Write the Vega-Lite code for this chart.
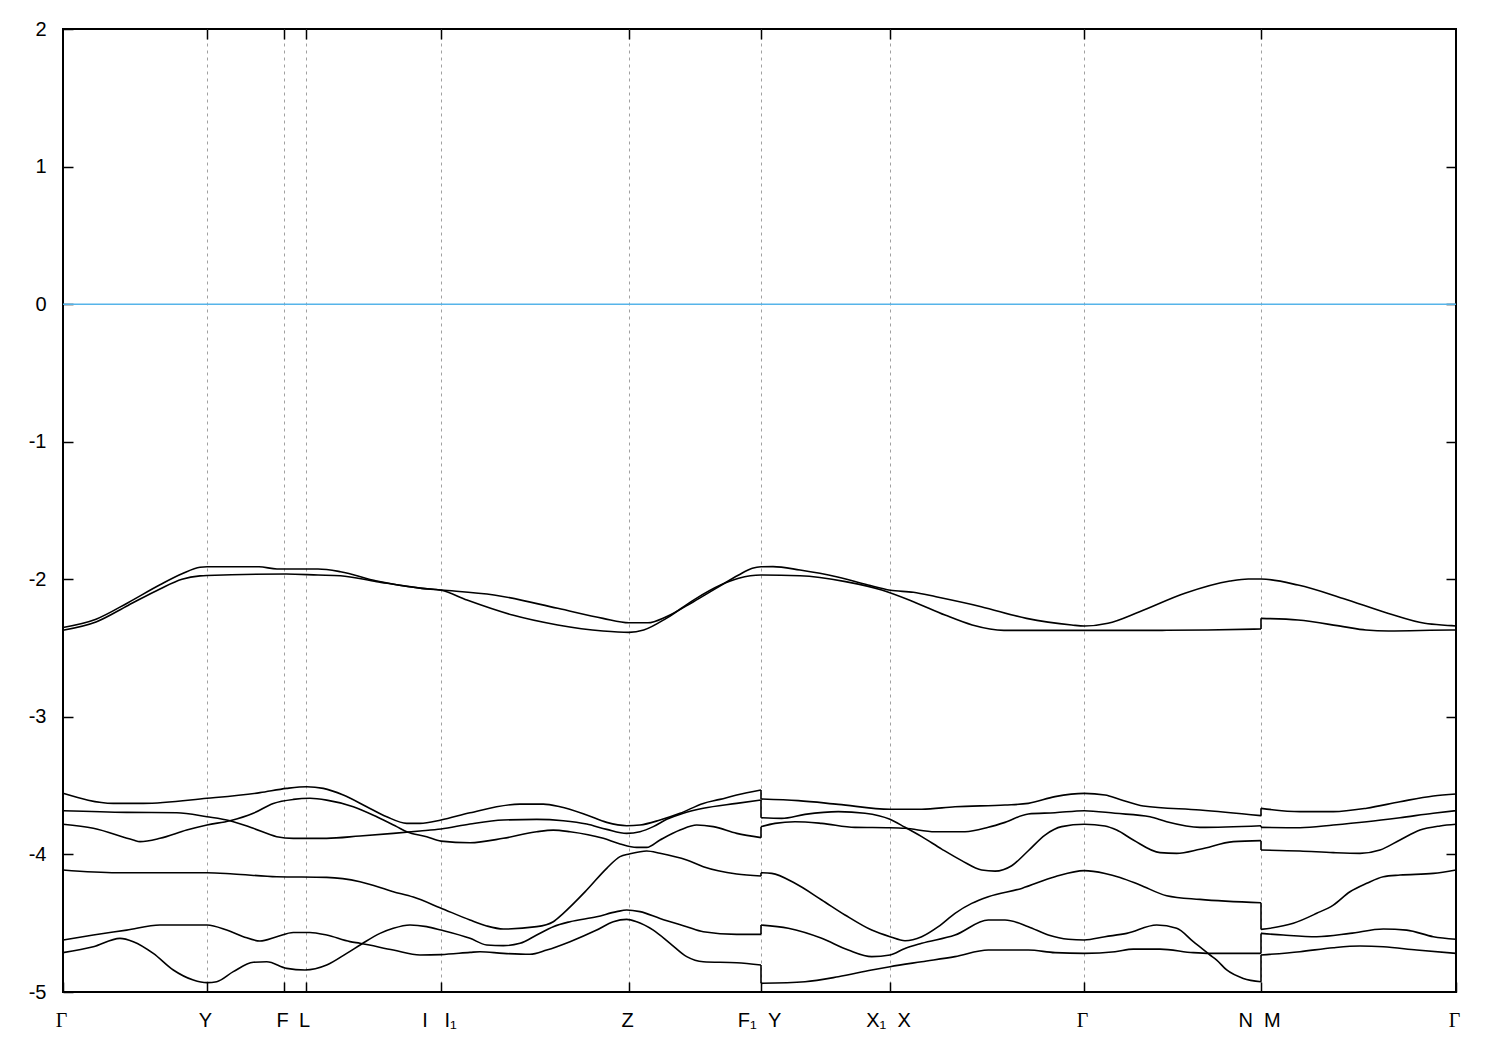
{
  "$schema": "https://vega.github.io/schema/vega-lite/v6.json",
  "autosize": "none",
  "width": 1393,
  "height": 963,
  "padding": {"left": 63, "top": 29, "right": 44, "bottom": 58},
  "background": "white",
  "config": {
    "view": {"stroke": "black", "strokeWidth": 2},
    "axis": {"labelFont": "Liberation Sans", "labelFontSize": 20, "labelColor": "black", "tickColor": "black", "tickWidth": 1.5}
  },
  "datasets": {
    "bands": [
      {"s":"u1","k":63,"e":-2.35},{"s":"u1","k":96,"e":-2.29},{"s":"u1","k":128,"e":-2.17},{"s":"u1","k":160,"e":-2.04},{"s":"u1","k":182,"e":-1.96},{"s":"u1","k":200,"e":-1.912},{"s":"u1","k":207,"e":-1.909},{"s":"u1","k":259,"e":-1.909},{"s":"u1","k":277,"e":-1.925},{"s":"u1","k":318,"e":-1.925},{"s":"u1","k":340.5,"e":-1.945},{"s":"u1","k":376.7,"e":-2.013},{"s":"u1","k":422,"e":-2.066},{"s":"u1","k":441.4,"e":-2.078},{"s":"u1","k":494,"e":-2.114},{"s":"u1","k":557.7,"e":-2.211},{"s":"u1","k":603,"e":-2.284},{"s":"u1","k":629,"e":-2.316},{"s":"u1","k":648,"e":-2.316},{"s":"u1","k":666.3,"e":-2.272},{"s":"u1","k":693.5,"e":-2.163},{"s":"u1","k":716,"e":-2.066},{"s":"u1","k":738.7,"e":-1.969},{"s":"u1","k":752.3,"e":-1.92},{"s":"u1","k":761,"e":-1.909},{"s":"u1","k":773,"e":-1.908},{"s":"u1","k":800,"e":-1.933},{"s":"u1","k":836.4,"e":-1.981},{"s":"u1","k":868,"e":-2.042},{"s":"u1","k":890.3,"e":-2.08},{"s":"u1","k":913.4,"e":-2.094},{"s":"u1","k":936,"e":-2.127},{"s":"u1","k":981.2,"e":-2.199},{"s":"u1","k":1026.5,"e":-2.284},{"s":"u1","k":1071.7,"e":-2.332},{"s":"u1","k":1084.4,"e":-2.34},{"s":"u1","k":1108,"e":-2.32},{"s":"u1","k":1139.6,"e":-2.236},{"s":"u1","k":1184.9,"e":-2.102},{"s":"u1","k":1230,"e":-2.013},{"s":"u1","k":1248.2,"e":-1.998},{"s":"u1","k":1261,"e":-1.998},{"s":"u1","k":1298,"e":-2.042},{"s":"u1","k":1343.2,"e":-2.139},{"s":"u1","k":1388.5,"e":-2.248},{"s":"u1","k":1424.7,"e":-2.32},{"s":"u1","k":1451.8,"e":-2.337},{"s":"u1","k":1456,"e":-2.34},

      {"s":"u2a","k":63,"e":-2.37},{"s":"u2a","k":96,"e":-2.31},{"s":"u2a","k":128,"e":-2.19},{"s":"u2a","k":160,"e":-2.07},{"s":"u2a","k":182,"e":-2.0},{"s":"u2a","k":200,"e":-1.975},{"s":"u2a","k":207,"e":-1.972},{"s":"u2a","k":286,"e":-1.962},{"s":"u2a","k":318,"e":-1.969},{"s":"u2a","k":340.5,"e":-1.974},{"s":"u2a","k":376.7,"e":-2.017},{"s":"u2a","k":422,"e":-2.066},{"s":"u2a","k":441.4,"e":-2.08},{"s":"u2a","k":467,"e":-2.151},{"s":"u2a","k":512.5,"e":-2.26},{"s":"u2a","k":557.7,"e":-2.332},{"s":"u2a","k":603,"e":-2.376},{"s":"u2a","k":629,"e":-2.386},{"s":"u2a","k":643.7,"e":-2.369},{"s":"u2a","k":666.3,"e":-2.284},{"s":"u2a","k":693.5,"e":-2.151},{"s":"u2a","k":720.6,"e":-2.042},{"s":"u2a","k":738.7,"e":-1.993},{"s":"u2a","k":761,"e":-1.969},{"s":"u2a","k":800,"e":-1.974},{"s":"u2a","k":845.5,"e":-2.017},{"s":"u2a","k":881.7,"e":-2.078},{"s":"u2a","k":913.4,"e":-2.163},{"s":"u2a","k":945,"e":-2.26},{"s":"u2a","k":972.2,"e":-2.332},{"s":"u2a","k":1003.9,"e":-2.371},{"s":"u2a","k":1084.4,"e":-2.371},{"s":"u2a","k":1162.2,"e":-2.371},{"s":"u2a","k":1207.5,"e":-2.369},{"s":"u2a","k":1261,"e":-2.361},
      {"s":"u2b","k":1261,"e":-2.284},{"s":"u2b","k":1298,"e":-2.296},{"s":"u2b","k":1343.2,"e":-2.344},{"s":"u2b","k":1365.9,"e":-2.369},{"s":"u2b","k":1388.5,"e":-2.376},{"s":"u2b","k":1451.8,"e":-2.369},{"s":"u2b","k":1456,"e":-2.369},

      {"s":"b1s1","k":63,"e":-3.556},{"s":"b1s1","k":113.3,"e":-3.629},{"s":"b1s1","k":143.3,"e":-3.629},{"s":"b1s1","k":207,"e":-3.592},{"s":"b1s1","k":260,"e":-3.551},{"s":"b1s1","k":286.7,"e":-3.52},{"s":"b1s1","k":306.7,"e":-3.508},{"s":"b1s1","k":323.3,"e":-3.52},{"s":"b1s1","k":343.3,"e":-3.568},{"s":"b1s1","k":366.7,"e":-3.653},{"s":"b1s1","k":386.7,"e":-3.726},{"s":"b1s1","k":406.7,"e":-3.774},{"s":"b1s1","k":420,"e":-3.774},{"s":"b1s1","k":441,"e":-3.75},{"s":"b1s1","k":470,"e":-3.697},{"s":"b1s1","k":520,"e":-3.634},{"s":"b1s1","k":543.3,"e":-3.634},{"s":"b1s1","k":560,"e":-3.653},{"s":"b1s1","k":586.7,"e":-3.713},{"s":"b1s1","k":606.7,"e":-3.767},{"s":"b1s1","k":626.7,"e":-3.791},{"s":"b1s1","k":640,"e":-3.786},{"s":"b1s1","k":660,"e":-3.75},{"s":"b1s1","k":680,"e":-3.701},{"s":"b1s1","k":703.3,"e":-3.629},{"s":"b1s1","k":720,"e":-3.6},{"s":"b1s1","k":736.7,"e":-3.568},{"s":"b1s1","k":761,"e":-3.532},

      {"s":"b2s1","k":63,"e":-3.682},{"s":"b2s1","k":126.7,"e":-3.694},{"s":"b2s1","k":176.7,"e":-3.697},{"s":"b2s1","k":207,"e":-3.726},{"s":"b2s1","k":230,"e":-3.755},{"s":"b2s1","k":253.3,"e":-3.81},{"s":"b2s1","k":276.7,"e":-3.871},{"s":"b2s1","k":293.3,"e":-3.883},{"s":"b2s1","k":326.7,"e":-3.883},{"s":"b2s1","k":360,"e":-3.866},{"s":"b2s1","k":393.3,"e":-3.847},{"s":"b2s1","k":420,"e":-3.83},{"s":"b2s1","k":441,"e":-3.815},{"s":"b2s1","k":470,"e":-3.779},{"s":"b2s1","k":503.3,"e":-3.75},{"s":"b2s1","k":536.7,"e":-3.745},{"s":"b2s1","k":563.3,"e":-3.755},{"s":"b2s1","k":586.7,"e":-3.779},{"s":"b2s1","k":606.7,"e":-3.818},{"s":"b2s1","k":626.7,"e":-3.847},{"s":"b2s1","k":640,"e":-3.835},{"s":"b2s1","k":653.3,"e":-3.798},{"s":"b2s1","k":666.7,"e":-3.745},{"s":"b2s1","k":683.3,"e":-3.701},{"s":"b2s1","k":703.3,"e":-3.665},{"s":"b2s1","k":736.7,"e":-3.629},{"s":"b2s1","k":761,"e":-3.604},

      {"s":"b3s1","k":63,"e":-3.781},{"s":"b3s1","k":93.3,"e":-3.81},{"s":"b3s1","k":133.3,"e":-3.895},{"s":"b3s1","k":140,"e":-3.907},{"s":"b3s1","k":160,"e":-3.883},{"s":"b3s1","k":186.7,"e":-3.823},{"s":"b3s1","k":207,"e":-3.786},{"s":"b3s1","k":230,"e":-3.755},{"s":"b3s1","k":253.3,"e":-3.701},{"s":"b3s1","k":273.3,"e":-3.629},{"s":"b3s1","k":293.3,"e":-3.6},{"s":"b3s1","k":310,"e":-3.592},{"s":"b3s1","k":326.7,"e":-3.605},{"s":"b3s1","k":353.3,"e":-3.653},{"s":"b3s1","k":376.7,"e":-3.726},{"s":"b3s1","k":396.7,"e":-3.798},{"s":"b3s1","k":406.7,"e":-3.835},{"s":"b3s1","k":426.7,"e":-3.871},{"s":"b3s1","k":441,"e":-3.903},{"s":"b3s1","k":470,"e":-3.915},{"s":"b3s1","k":503.3,"e":-3.883},{"s":"b3s1","k":536.7,"e":-3.835},{"s":"b3s1","k":553.3,"e":-3.823},{"s":"b3s1","k":570,"e":-3.835},{"s":"b3s1","k":603.3,"e":-3.883},{"s":"b3s1","k":620,"e":-3.924},{"s":"b3s1","k":636.7,"e":-3.949},{"s":"b3s1","k":646.7,"e":-3.949},{"s":"b3s1","k":660,"e":-3.895},{"s":"b3s1","k":680,"e":-3.823},{"s":"b3s1","k":696.7,"e":-3.786},{"s":"b3s1","k":713.3,"e":-3.798},{"s":"b3s1","k":736.7,"e":-3.847},{"s":"b3s1","k":761,"e":-3.878},

      {"s":"b4s1","k":63,"e":-4.113},{"s":"b4s1","k":116.7,"e":-4.133},{"s":"b4s1","k":207,"e":-4.133},{"s":"b4s1","k":233.3,"e":-4.142},{"s":"b4s1","k":276.7,"e":-4.162},{"s":"b4s1","k":326.7,"e":-4.167},{"s":"b4s1","k":360,"e":-4.198},{"s":"b4s1","k":393.3,"e":-4.271},{"s":"b4s1","k":413.3,"e":-4.31},{"s":"b4s1","k":440,"e":-4.387},{"s":"b4s1","k":470,"e":-4.477},{"s":"b4s1","k":486.7,"e":-4.52},{"s":"b4s1","k":503.3,"e":-4.542},{"s":"b4s1","k":536.7,"e":-4.525},{"s":"b4s1","k":553.3,"e":-4.489},{"s":"b4s1","k":563.3,"e":-4.428},{"s":"b4s1","k":586.7,"e":-4.259},{"s":"b4s1","k":606.7,"e":-4.101},{"s":"b4s1","k":620,"e":-4.016},{"s":"b4s1","k":629.3,"e":-3.997},{"s":"b4s1","k":646.7,"e":-3.975},{"s":"b4s1","k":660,"e":-3.992},{"s":"b4s1","k":686.7,"e":-4.041},{"s":"b4s1","k":703.3,"e":-4.089},{"s":"b4s1","k":736.7,"e":-4.142},{"s":"b4s1","k":761,"e":-4.157},

      {"s":"b5s1","k":63,"e":-4.714},{"s":"b5s1","k":93.3,"e":-4.671},{"s":"b5s1","k":120,"e":-4.61},{"s":"b5s1","k":133.3,"e":-4.634},{"s":"b5s1","k":153.3,"e":-4.719},{"s":"b5s1","k":173.3,"e":-4.84},{"s":"b5s1","k":193.3,"e":-4.913},{"s":"b5s1","k":207,"e":-4.932},{"s":"b5s1","k":216.7,"e":-4.925},{"s":"b5s1","k":233.3,"e":-4.852},{"s":"b5s1","k":253.3,"e":-4.784},{"s":"b5s1","k":266.7,"e":-4.78},{"s":"b5s1","k":286.7,"e":-4.828},{"s":"b5s1","k":305,"e":-4.84},{"s":"b5s1","k":326.7,"e":-4.804},{"s":"b5s1","k":346.7,"e":-4.719},{"s":"b5s1","k":361.7,"e":-4.651},{"s":"b5s1","k":380,"e":-4.574},{"s":"b5s1","k":393.3,"e":-4.537},{"s":"b5s1","k":410,"e":-4.513},{"s":"b5s1","k":426.7,"e":-4.525},{"s":"b5s1","k":441,"e":-4.55},{"s":"b5s1","k":470,"e":-4.61},{"s":"b5s1","k":486.7,"e":-4.658},{"s":"b5s1","k":503.3,"e":-4.663},{"s":"b5s1","k":520,"e":-4.646},{"s":"b5s1","k":536.7,"e":-4.586},{"s":"b5s1","k":553.3,"e":-4.525},{"s":"b5s1","k":570,"e":-4.489},{"s":"b5s1","k":596.7,"e":-4.453},{"s":"b5s1","k":616.7,"e":-4.416},{"s":"b5s1","k":626.7,"e":-4.404},{"s":"b5s1","k":640,"e":-4.416},{"s":"b5s1","k":660,"e":-4.465},{"s":"b5s1","k":686.7,"e":-4.525},{"s":"b5s1","k":703.3,"e":-4.562},{"s":"b5s1","k":736.7,"e":-4.581},{"s":"b5s1","k":761,"e":-4.581},

      {"s":"b6s1","k":63,"e":-4.622},{"s":"b6s1","k":93.3,"e":-4.586},{"s":"b6s1","k":126.7,"e":-4.55},{"s":"b6s1","k":160,"e":-4.513},{"s":"b6s1","k":207,"e":-4.513},{"s":"b6s1","k":226.7,"e":-4.55},{"s":"b6s1","k":243.3,"e":-4.598},{"s":"b6s1","k":260,"e":-4.629},{"s":"b6s1","k":276.7,"e":-4.598},{"s":"b6s1","k":293.3,"e":-4.567},{"s":"b6s1","k":310,"e":-4.567},{"s":"b6s1","k":326.7,"e":-4.586},{"s":"b6s1","k":350,"e":-4.634},{"s":"b6s1","k":360,"e":-4.646},{"s":"b6s1","k":393.3,"e":-4.695},{"s":"b6s1","k":420,"e":-4.731},{"s":"b6s1","k":441,"e":-4.728},{"s":"b6s1","k":470,"e":-4.712},{"s":"b6s1","k":480,"e":-4.707},{"s":"b6s1","k":503.3,"e":-4.719},{"s":"b6s1","k":530,"e":-4.726},{"s":"b6s1","k":546.7,"e":-4.695},{"s":"b6s1","k":570,"e":-4.634},{"s":"b6s1","k":596.7,"e":-4.55},{"s":"b6s1","k":613.3,"e":-4.489},{"s":"b6s1","k":626.7,"e":-4.472},{"s":"b6s1","k":636.7,"e":-4.489},{"s":"b6s1","k":653.3,"e":-4.55},{"s":"b6s1","k":670,"e":-4.646},{"s":"b6s1","k":686.7,"e":-4.743},{"s":"b6s1","k":703.3,"e":-4.78},{"s":"b6s1","k":736.7,"e":-4.787},{"s":"b6s1","k":761,"e":-4.804},

      {"s":"b1s2","k":761,"e":-3.597},{"s":"b1s2","k":798.3,"e":-3.609},{"s":"b1s2","k":838.3,"e":-3.636},{"s":"b1s2","k":890,"e":-3.672},{"s":"b1s2","k":921.7,"e":-3.672},{"s":"b1s2","k":955,"e":-3.653},{"s":"b1s2","k":1005,"e":-3.641},{"s":"b1s2","k":1028.3,"e":-3.629},{"s":"b1s2","k":1055,"e":-3.58},{"s":"b1s2","k":1084.3,"e":-3.556},{"s":"b1s2","k":1105,"e":-3.568},{"s":"b1s2","k":1120,"e":-3.6},{"s":"b1s2","k":1143.3,"e":-3.648},{"s":"b1s2","k":1200,"e":-3.677},{"s":"b1s2","k":1261,"e":-3.718},

      {"s":"b2s2","k":761,"e":-3.733},{"s":"b2s2","k":781.7,"e":-3.738},{"s":"b2s2","k":805,"e":-3.709},{"s":"b2s2","k":838.3,"e":-3.689},{"s":"b2s2","k":865,"e":-3.701},{"s":"b2s2","k":890,"e":-3.745},{"s":"b2s2","k":905,"e":-3.803},{"s":"b2s2","k":921.7,"e":-3.871},{"s":"b2s2","k":941.7,"e":-3.961},{"s":"b2s2","k":961.7,"e":-4.045},{"s":"b2s2","k":981.7,"e":-4.113},{"s":"b2s2","k":995,"e":-4.121},{"s":"b2s2","k":1011.7,"e":-4.082},{"s":"b2s2","k":1028.3,"e":-3.973},{"s":"b2s2","k":1045,"e":-3.859},{"s":"b2s2","k":1061.7,"e":-3.798},{"s":"b2s2","k":1084.3,"e":-3.781},{"s":"b2s2","k":1105,"e":-3.793},{"s":"b2s2","k":1116.7,"e":-3.823},{"s":"b2s2","k":1133.3,"e":-3.895},{"s":"b2s2","k":1160,"e":-3.987},{"s":"b2s2","k":1176.7,"e":-3.992},{"s":"b2s2","k":1200,"e":-3.963},{"s":"b2s2","k":1233.3,"e":-3.907},{"s":"b2s2","k":1261,"e":-3.9},

      {"s":"b3s2","k":761,"e":-3.798},{"s":"b3s2","k":775,"e":-3.774},{"s":"b3s2","k":795,"e":-3.762},{"s":"b3s2","k":821.7,"e":-3.774},{"s":"b3s2","k":855,"e":-3.803},{"s":"b3s2","k":890,"e":-3.806},{"s":"b3s2","k":905,"e":-3.81},{"s":"b3s2","k":935,"e":-3.835},{"s":"b3s2","k":965,"e":-3.835},{"s":"b3s2","k":988.3,"e":-3.803},{"s":"b3s2","k":1005,"e":-3.767},{"s":"b3s2","k":1028.3,"e":-3.706},{"s":"b3s2","k":1055,"e":-3.697},{"s":"b3s2","k":1084.3,"e":-3.682},{"s":"b3s2","k":1115,"e":-3.701},{"s":"b3s2","k":1150,"e":-3.726},{"s":"b3s2","k":1166.7,"e":-3.762},{"s":"b3s2","k":1200,"e":-3.803},{"s":"b3s2","k":1261,"e":-3.791},

      {"s":"b4s2","k":761,"e":-4.133},{"s":"b4s2","k":771.7,"e":-4.138},{"s":"b4s2","k":795,"e":-4.21},{"s":"b4s2","k":821.7,"e":-4.331},{"s":"b4s2","k":845,"e":-4.44},{"s":"b4s2","k":871.7,"e":-4.55},{"s":"b4s2","k":890,"e":-4.598},{"s":"b4s2","k":905,"e":-4.627},{"s":"b4s2","k":921.7,"e":-4.598},{"s":"b4s2","k":938.3,"e":-4.525},{"s":"b4s2","k":955,"e":-4.428},{"s":"b4s2","k":971.7,"e":-4.356},{"s":"b4s2","k":988.3,"e":-4.307},{"s":"b4s2","k":1021.7,"e":-4.247},{"s":"b4s2","k":1055,"e":-4.162},{"s":"b4s2","k":1084.3,"e":-4.118},{"s":"b4s2","k":1105,"e":-4.138},{"s":"b4s2","k":1120,"e":-4.167},{"s":"b4s2","k":1140,"e":-4.222},{"s":"b4s2","k":1166.7,"e":-4.3},{"s":"b4s2","k":1200,"e":-4.327},{"s":"b4s2","k":1261,"e":-4.351},

      {"s":"b5s2","k":761,"e":-4.513},{"s":"b5s2","k":788.3,"e":-4.537},{"s":"b5s2","k":821.7,"e":-4.61},{"s":"b5s2","k":848.3,"e":-4.695},{"s":"b5s2","k":871.7,"e":-4.743},{"s":"b5s2","k":890,"e":-4.731},{"s":"b5s2","k":905,"e":-4.683},{"s":"b5s2","k":921.7,"e":-4.646},{"s":"b5s2","k":955,"e":-4.586},{"s":"b5s2","k":988.3,"e":-4.477},{"s":"b5s2","k":1005,"e":-4.477},{"s":"b5s2","k":1028.3,"e":-4.525},{"s":"b5s2","k":1048.3,"e":-4.586},{"s":"b5s2","k":1068.3,"e":-4.617},{"s":"b5s2","k":1084.3,"e":-4.622},{"s":"b5s2","k":1105,"e":-4.598},{"s":"b5s2","k":1126.7,"e":-4.574},{"s":"b5s2","k":1156.7,"e":-4.513},{"s":"b5s2","k":1176.7,"e":-4.537},{"s":"b5s2","k":1193.3,"e":-4.634},{"s":"b5s2","k":1210,"e":-4.731},{"s":"b5s2","k":1216.7,"e":-4.768},{"s":"b5s2","k":1226.7,"e":-4.84},{"s":"b5s2","k":1243.3,"e":-4.901},{"s":"b5s2","k":1261,"e":-4.925},

      {"s":"b6s2","k":761,"e":-4.937},{"s":"b6s2","k":805,"e":-4.925},{"s":"b6s2","k":838.3,"e":-4.889},{"s":"b6s2","k":871.7,"e":-4.84},{"s":"b6s2","k":890,"e":-4.816},{"s":"b6s2","k":921.7,"e":-4.78},{"s":"b6s2","k":955,"e":-4.743},{"s":"b6s2","k":988.3,"e":-4.695},{"s":"b6s2","k":1028.3,"e":-4.695},{"s":"b6s2","k":1055,"e":-4.714},{"s":"b6s2","k":1084.3,"e":-4.719},{"s":"b6s2","k":1115,"e":-4.707},{"s":"b6s2","k":1133.3,"e":-4.688},{"s":"b6s2","k":1160,"e":-4.688},{"s":"b6s2","k":1193.3,"e":-4.714},{"s":"b6s2","k":1210,"e":-4.719},{"s":"b6s2","k":1261,"e":-4.719},

      {"s":"b1s3","k":1261,"e":-3.665},{"s":"b1s3","k":1300,"e":-3.689},{"s":"b1s3","k":1333.3,"e":-3.689},{"s":"b1s3","k":1366.7,"e":-3.664},{"s":"b1s3","k":1400,"e":-3.617},{"s":"b1s3","k":1433.3,"e":-3.575},{"s":"b1s3","k":1456,"e":-3.561},
      {"s":"b3s3","k":1261,"e":-3.803},{"s":"b3s3","k":1300,"e":-3.806},{"s":"b3s3","k":1333.3,"e":-3.786},{"s":"b3s3","k":1366.7,"e":-3.762},{"s":"b3s3","k":1400,"e":-3.733},{"s":"b3s3","k":1433.3,"e":-3.701},{"s":"b3s3","k":1456,"e":-3.682},
      {"s":"b2s3","k":1261,"e":-3.968},{"s":"b2s3","k":1300,"e":-3.975},{"s":"b2s3","k":1333.3,"e":-3.987},{"s":"b2s3","k":1360,"e":-3.992},{"s":"b2s3","k":1380,"e":-3.968},{"s":"b2s3","k":1400,"e":-3.895},{"s":"b2s3","k":1420,"e":-3.823},{"s":"b2s3","k":1440,"e":-3.793},{"s":"b2s3","k":1456,"e":-3.781},
      {"s":"b4s3","k":1261,"e":-4.545},{"s":"b4s3","k":1293.3,"e":-4.501},{"s":"b4s3","k":1316.7,"e":-4.428},{"s":"b4s3","k":1333.3,"e":-4.368},{"s":"b4s3","k":1350,"e":-4.271},{"s":"b4s3","k":1366.7,"e":-4.21},{"s":"b4s3","k":1383.3,"e":-4.162},{"s":"b4s3","k":1400,"e":-4.15},{"s":"b4s3","k":1433.3,"e":-4.138},{"s":"b4s3","k":1456,"e":-4.113},
      {"s":"b6s3","k":1261,"e":-4.574},{"s":"b6s3","k":1283.3,"e":-4.586},{"s":"b6s3","k":1316.7,"e":-4.598},{"s":"b6s3","k":1350,"e":-4.574},{"s":"b6s3","k":1383.3,"e":-4.542},{"s":"b6s3","k":1406.7,"e":-4.55},{"s":"b6s3","k":1433.3,"e":-4.598},{"s":"b6s3","k":1456,"e":-4.617},
      {"s":"b5s3","k":1261,"e":-4.731},{"s":"b5s3","k":1300,"e":-4.707},{"s":"b5s3","k":1333.3,"e":-4.678},{"s":"b5s3","k":1360,"e":-4.666},{"s":"b5s3","k":1383.3,"e":-4.671},{"s":"b5s3","k":1416.7,"e":-4.695},{"s":"b5s3","k":1456,"e":-4.719}
    ],
    "jumps": [
      {"k":761,"e":-3.532,"e2":-3.597},{"k":761,"e":-3.604,"e2":-3.733},{"k":761,"e":-3.878,"e2":-3.798},{"k":761,"e":-4.157,"e2":-4.133},{"k":761,"e":-4.581,"e2":-4.513},{"k":761,"e":-4.804,"e2":-4.937},
      {"k":1261,"e":-3.718,"e2":-3.665},{"k":1261,"e":-3.791,"e2":-3.803},{"k":1261,"e":-3.9,"e2":-3.968},{"k":1261,"e":-4.351,"e2":-4.545},{"k":1261,"e":-4.719,"e2":-4.574},{"k":1261,"e":-4.925,"e2":-4.731},{"k":1261,"e":-2.361,"e2":-2.284}
    ]
  },
  "resolve": {"axis": {"x": "independent", "y": "independent"}},
  "layer": [
    {
      "data": {"values": [{"e": 0}]},
      "mark": {"type": "rule", "color": "#56b4e9", "strokeWidth": 1.5},
      "encoding": {
        "y": {"field": "e", "type": "quantitative", "scale": {"domain": [-5, 2], "nice": false, "zero": false}, "axis": null}
      }
    },
    {
      "data": {"name": "bands"},
      "mark": {"type": "line", "color": "black", "strokeWidth": 1.6, "interpolate": "monotone"},
      "encoding": {
        "x": {
          "field": "k", "type": "quantitative",
          "scale": {"domain": [63, 1456], "nice": false, "zero": false},
          "axis": {
            "title": null, "orient": "bottom", "domain": false,
            "values": [63, 207, 284, 306, 441, 629, 761, 890, 1084, 1261, 1456],
            "tickSize": -10, "labelPadding": 28, "labelOffset": -2,
            "labelFlush": false, "labelOverlap": false,
            "labelFont": {"condition": {"test": "datum.value == 63 || datum.value == 1084 || datum.value == 1456", "value": "Liberation Serif"}, "value": "Liberation Sans"},
            "labelExpr": "datum.value == 63 ? 'Γ' : datum.value == 207 ? 'Y' : datum.value == 284 ? 'F' : datum.value == 306 ? 'L' : datum.value == 441 ? 'I\u00a0\u00a0\u00a0I\u2081' : datum.value == 629 ? 'Z' : datum.value == 761 ? 'F\u2081\u00a0\u00a0Y' : datum.value == 890 ? 'X\u2081\u00a0\u00a0X' : datum.value == 1084 ? 'Γ' : datum.value == 1261 ? 'N\u00a0\u00a0M' : datum.value == 1456 ? 'Γ' : ''",
            "grid": true, "gridColor": "#a0a0a0", "gridDash": [3, 4], "gridWidth": 1,
            "gridOpacity": {"condition": {"test": "datum.value == 63 || datum.value == 1456", "value": 0}, "value": 1}
          }
        },
        "y": {
          "field": "e", "type": "quantitative",
          "scale": {"domain": [-5, 2], "nice": false, "zero": false},
          "axis": {
            "title": null, "orient": "left", "domain": false, "grid": false,
            "values": [-5, -4, -3, -2, -1, 0, 1, 2],
            "tickSize": -10, "labelPadding": 27,
            "labelExpr": "datum.value < 0 ? '-' + abs(datum.value) : '' + datum.value"
          }
        },
        "detail": {"field": "s", "type": "nominal"}
      }
    },
    {
      "data": {"name": "jumps"},
      "mark": {"type": "rule", "color": "black", "strokeWidth": 1.6},
      "encoding": {
        "x": {
          "field": "k", "type": "quantitative",
          "scale": {"domain": [63, 1456], "nice": false, "zero": false},
          "axis": {"title": null, "orient": "top", "domain": false, "grid": false, "labels": false,
                   "values": [207, 284, 306, 441, 629, 761, 890, 1084, 1261], "tickSize": -10}
        },
        "y": {
          "field": "e", "type": "quantitative",
          "scale": {"domain": [-5, 2], "nice": false, "zero": false},
          "axis": {"title": null, "orient": "right", "domain": false, "grid": false, "labels": false,
                   "values": [-4, -3, -2, -1, 0, 1], "tickSize": -10}
        },
        "y2": {"field": "e2"}
      }
    }
  ]
}
